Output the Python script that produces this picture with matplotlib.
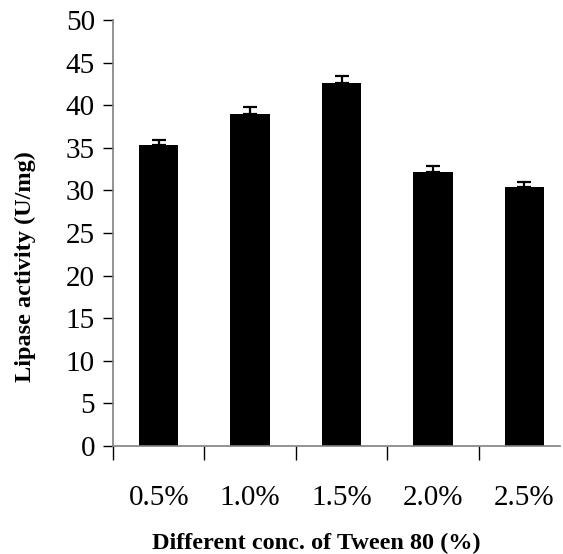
import matplotlib.pyplot as plt
import numpy as np

concs = ["0.5%", "1.0%", "1.5%", "2.0%", "2.5%"]
activity = [35.3, 39.0, 42.6, 32.2, 30.4]
errors = [0.6, 0.8, 0.8, 0.7, 0.6]
y_ticks = [0, 5, 10, 15, 20, 25, 30, 35, 40, 45, 50]

plt.rcParams["font.family"] = ["Liberation Serif", "DejaVu Serif"]

fig = plt.figure(figsize=(5.63, 5.54), dpi=100)
ax = fig.add_axes([0.2007, 0.195, 0.794, 0.769])

x = np.arange(len(concs))
ax.bar(x, activity, width=0.43, color="black", zorder=2)
ax.errorbar(x, activity, yerr=[[0] * len(errors), errors], fmt="none",
            ecolor="black", elinewidth=1.6, capsize=5, capthick=1.6, zorder=3)

ax.set_xlim(-0.5, 4.39)
ax.set_ylim(0, 50)
ax.set_yticks(y_ticks)
ax.tick_params(axis="y", labelsize=21, length=7, width=1, direction="out",
               pad=6)

# labels under the bars, tick marks between the bars
ax.set_xticks(x)
ax.set_xticklabels(concs)
ax.tick_params(axis="x", which="major", length=0, labelsize=21, pad=28)
ax.set_xticks(np.arange(-0.5, 4.0, 1.0), minor=True)
ax.tick_params(axis="x", which="minor", length=10, width=1, direction="out")

for side in ["top", "right"]:
    ax.spines[side].set_visible(False)
for side in ["left", "bottom"]:
    ax.spines[side].set_color("#808080")
    ax.spines[side].set_linewidth(1.2)

fig.text(0.561, 0.009, "Different conc. of Tween 80 (%)", fontsize=17.5,
         fontweight="bold", ha="center", va="baseline")
fig.text(0.046, 0.518, "Lipase activity (U/mg)", fontsize=17.5,
         fontweight="bold", ha="center", va="center", rotation=90)

fig.savefig("out.png", dpi=100)
